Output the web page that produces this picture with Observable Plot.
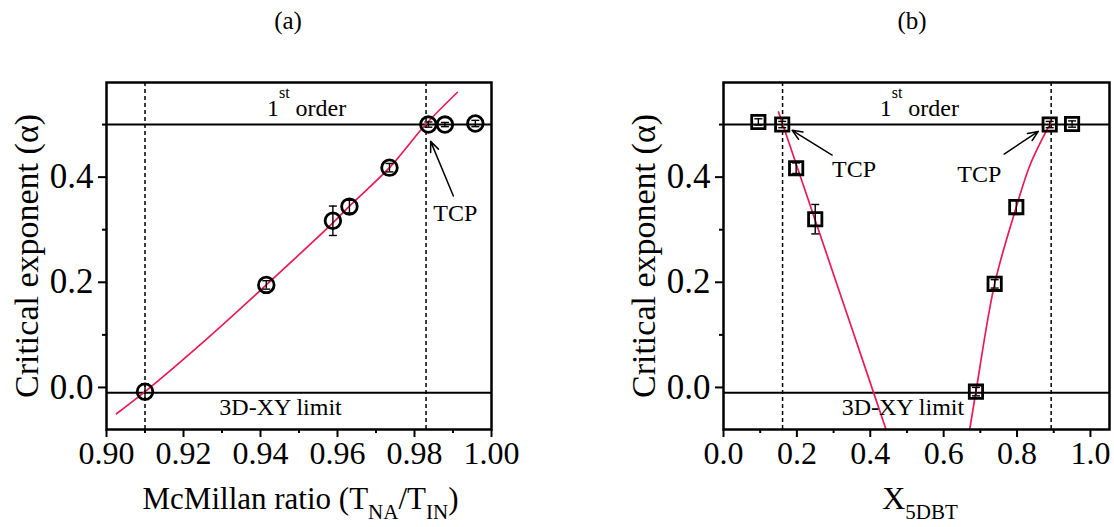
<!DOCTYPE html>
<html>
<head>
<meta charset="utf-8">
<script src="https://cdn.jsdelivr.net/npm/d3@7"></script>
<script src="https://cdn.jsdelivr.net/npm/@observablehq/plot@0.6"></script>
<style>
  html, body { margin: 0; padding: 0; background: #fff; }
  #wrap { position: relative; width: 1114px; height: 527px; overflow: hidden;
          font-family: "Liberation Serif", "Times New Roman", serif; }
  .panel { position: absolute; top: 0; width: 557px; height: 527px; }
  .ptitle { position: absolute; top: 0; height: 40px; width: 100px; line-height: 42px;
            text-align: center; font-size: 25px; color: #000; }
  .panel svg { position: absolute; top: 40px; left: 0; }
  .panel svg text { font-family: "Liberation Serif", "Times New Roman", serif !important; }
</style>
</head>
<body>
<div id="wrap">
  <div class="panel" id="pa" style="left:0px"><div class="ptitle" style="left:238px">(a)</div></div>
  <div class="panel" id="pb" style="left:557px"><div class="ptitle" style="left:305px">(b)</div></div>
</div>
<script>
// ---------- data ----------
const yDomain = [-0.08, 0.58];
const yMajor = [0.0, 0.2, 0.4];
const yMinor = [0.1, 0.3, 0.5];
const yLabel = "Critical exponent (\u03b1)";
const levelLines = [0.5, -0.01];           // 1st order line, 3D-XY limit

// panel (a)
const xDomainA = [0.90, 1.00];
const xMajorA = [0.90, 0.92, 0.94, 0.96, 0.98, 1.00];
const xMinorA = [0.91, 0.93, 0.95, 0.97, 0.99];
const ratioA = [0.910, 0.9415, 0.9588, 0.9631, 0.9735, 0.9836, 0.9879, 0.9958];
const alphaA = [-0.008, 0.195, 0.317, 0.344, 0.418, 0.500, 0.500, 0.502];
const errA   = [0.015, 0.008, 0.028, 0.012, 0.008, 0.005, 0.004, 0.006];
const fitXA  = [0.9026, 0.910, 0.9257, 0.9415, 0.9588, 0.9631, 0.9735, 0.9830, 0.9911];
const fitYA  = [-0.050, -0.008, 0.090, 0.195, 0.313, 0.345, 0.418, 0.501, 0.561];
const dashedA = [0.910, 0.983];
const arrowA = [{x1: 0.9901, y1: 0.364, x2: 0.9842, y2: 0.468}];
const textsA = [
  {x: 0.9452, y: -0.038, text: "3D-XY limit"},
  {x: 0.9906, y: 0.332, text: "TCP"}
];
const orderA = {x: 0.9418, y: 0.516};
const xLabelA = [
  {t: "McMillan ratio (T"}, {t: "NA", sub: true}, {t: "/T"}, {t: "IN", sub: true}, {t: ")"}
];

// panel (b)
const xDomainB = [0, 1.052];
const xMajorB = [0.0, 0.2, 0.4, 0.6, 0.8, 1.0];
const xMinorB = [0.1, 0.3, 0.5, 0.7, 0.9];
const x5dbt  = [0.095, 0.160, 0.198, 0.250, 0.688, 0.739, 0.798, 0.889, 0.950];
const alphaB = [0.505, 0.500, 0.417, 0.320, -0.008, 0.197, 0.343, 0.500, 0.501];
const errB   = [0.006, 0.006, 0.010, 0.028, 0.008, 0.008, 0.014, 0.006, 0.006];
const fitLeftX  = [0.150, 0.198, 0.250, 0.350, 0.443];
const fitLeftY  = [0.524, 0.425, 0.318, 0.112, -0.080];
const fitRightX = [0.671, 0.688, 0.739, 0.798, 0.836, 0.889, 0.893];
const fitRightY = [-0.080, -0.008, 0.197, 0.343, 0.424, 0.500, 0.505];
const dashedB = [0.161, 0.893];
const arrowsB = [
  {x1: 0.296, y1: 0.442, x2: 0.187, y2: 0.489},
  {x1: 0.765, y1: 0.444, x2: 0.858, y2: 0.487}
];
const textsB = [
  {x: 0.489, y: -0.038, text: "3D-XY limit"},
  {x: 0.356, y: 0.415, text: "TCP"},
  {x: 0.697, y: 0.405, text: "TCP"}
];
const orderB = {x: 0.427, y: 0.516};
const xLabelB = [{t: "X"}, {t: "5DBT", sub: true}];

// ---------- styling ----------
const FONT = "'Liberation Serif', 'Times New Roman', serif";
const RED = "#ea1a55";
const W = 557, H = 487;

const capSymbol = {
  draw(context, size) {
    const w = Math.sqrt(size / Math.PI);
    context.moveTo(-w, 0); context.lineTo(w, 0);
  }
};

function toRows(xs, ys, es) {
  return xs.map((x, i) => ({x, y: ys[i], e: es ? es[i] : 0}));
}

function makePanel(cfg) {
  const pts = toRows(cfg.px, cfg.py, cfg.pe);
  const marks = [
    Plot.ruleY(levelLines, {stroke: "black", strokeWidth: 2}),
    Plot.ruleX(cfg.dashed, {stroke: "black", strokeWidth: 1.5, strokeDasharray: "4,3"}),
    ...cfg.fits.map(f => Plot.line(toRows(f[0], f[1]), {x: "x", y: "y", stroke: RED, strokeWidth: 1.7, curve: "catmull-rom"})),
    Plot.ruleX(pts, {x: "x", y1: d => d.y - d.e, y2: d => d.y + d.e, stroke: "black", strokeWidth: 1.4}),
    Plot.dot(pts, {x: "x", y: d => d.y + d.e, symbol: capSymbol, r: 4, stroke: "black", strokeWidth: 1.4}),
    Plot.dot(pts, {x: "x", y: d => d.y - d.e, symbol: capSymbol, r: 4, stroke: "black", strokeWidth: 1.4}),
    Plot.dot(pts, {x: "x", y: "y", symbol: cfg.symbol, r: cfg.r, stroke: "black", strokeWidth: 2.8, fill: "none"}),
    Plot.arrow(cfg.arrows, {x1: "x1", y1: "y1", x2: "x2", y2: "y2", stroke: "black", strokeWidth: 1.5, headLength: 11, headAngle: 45}),
    Plot.text(cfg.texts, {x: "x", y: "y", text: "text", fontSize: 24, fontFamily: FONT, fill: "black", textAnchor: "middle", lineAnchor: "middle"}),
    Plot.text([yLabel], {text: d => d, frameAnchor: "left", textAnchor: "middle", lineAnchor: "middle", rotate: -90, dx: -79, fontSize: 34, fontFamily: FONT, fill: "black"}),
    Plot.axisX({ticks: cfg.xMajor, tickSize: 8, tickPadding: 4, strokeWidth: 2, tickFormat: cfg.xFmt, label: null, fontSize: 32, fontFamily: FONT}),
    Plot.axisX({ticks: cfg.xMinor, tickSize: 4, strokeWidth: 2, tickFormat: () => "", label: null}),
    Plot.axisY({ticks: yMajor, tickSize: 8, tickPadding: 5, strokeWidth: 2, tickFormat: d3.format(".1f"), label: null, fontSize: 35, fontFamily: FONT}),
    Plot.axisY({ticks: yMinor, tickSize: 4, strokeWidth: 2, tickFormat: () => "", label: null}),
    Plot.frame({stroke: "black", strokeWidth: 2.5})
  ];
  const chart = Plot.plot({
    width: W, height: H,
    marginTop: 42, marginBottom: 98, marginLeft: cfg.ml, marginRight: cfg.mr,
    style: {fontFamily: FONT, fontSize: "30px", color: "black", background: "transparent", overflow: "visible"},
    x: {domain: cfg.xDomain},
    y: {domain: yDomain},
    marks
  });
  const sx = chart.scale("x"), sy = chart.scale("y");
  const svg = d3.select(chart);

  // "1st order" with superscript
  const t1 = svg.append("text")
    .attr("x", sx.apply(cfg.order.x)).attr("y", sy.apply(cfg.order.y))
    .attr("text-anchor", "start")
    .style("font-family", FONT).attr("font-size", 24).attr("fill", "black")
    .style("white-space", "pre");
  t1.append("tspan").text("1");
  t1.append("tspan").attr("dy", -18).attr("font-size", 16).text("st");
  t1.append("tspan").attr("dy", 18).text(" order");

  // x axis label with subscripts
  const [r0, r1] = sx.range;
  const lab = svg.append("text")
    .attr("x", (r0 + r1) / 2 + cfg.labShift).attr("y", 469)
    .attr("text-anchor", "middle")
    .style("font-family", FONT).attr("font-size", cfg.labSize).attr("fill", "black")
    .style("white-space", "pre");
  let down = false;
  for (const p of cfg.xLabel) {
    const ts = lab.append("tspan").text(p.t);
    if (p.sub && !down) { ts.attr("dy", 10).attr("font-size", 21); down = true; }
    else if (p.sub) { ts.attr("font-size", 21); }
    else if (down) { ts.attr("dy", -10); down = false; }
  }
  return chart;
}

const chartA = makePanel({
  xDomain: xDomainA, xMajor: xMajorA, xMinor: xMinorA, xFmt: d3.format(".2f"),
  ml: 106, mr: 66,
  px: ratioA, py: alphaA, pe: errA, symbol: "circle", r: 7.8,
  fits: [[fitXA, fitYA]], dashed: dashedA, arrows: arrowA, texts: textsA,
  order: orderA, xLabel: xLabelA, labShift: 2, labSize: 31
});
const chartB = makePanel({
  xDomain: xDomainB, xMajor: xMajorB, xMinor: xMinorB, xFmt: d3.format(".1f"),
  ml: 166, mr: 5,
  px: x5dbt, py: alphaB, pe: errB, symbol: "square", r: 7.5,
  fits: [[fitLeftX, fitLeftY], [fitRightX, fitRightY]], dashed: dashedB, arrows: arrowsB, texts: textsB,
  order: orderB, xLabel: xLabelB, labShift: 4, labSize: 32
});
document.getElementById("pa").appendChild(chartA);
document.getElementById("pb").appendChild(chartB);
</script>
</body>
</html>
